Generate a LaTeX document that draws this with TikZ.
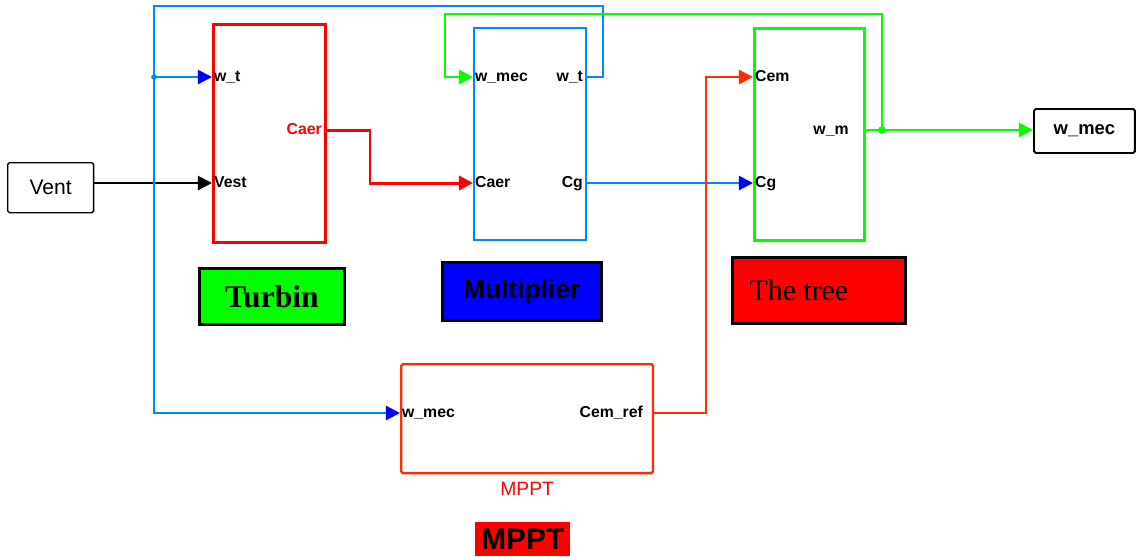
\documentclass[tikz,border=0pt]{standalone}
\usepackage{fontspec}
\setmainfont{Liberation Serif}
\setsansfont{Liberation Sans}
\usetikzlibrary{arrows.meta,positioning}
\definecolor{simblue}{RGB}{0,136,255}
\definecolor{simgreen}{RGB}{0,255,0}
\definecolor{simred}{RGB}{255,0,0}
\definecolor{simorange}{RGB}{255,45,0}
\definecolor{tipblue}{RGB}{0,0,255}

\begin{document}
\begin{tikzpicture}[x=0.02cm,y=-0.02cm,
  block/.style={draw,line width=1.6pt,inner sep=0pt,anchor=north west},
  port/.style={font=\sffamily\bfseries\fontsize{9}{10}\selectfont,inner sep=1pt,
    text height=1.6ex,text depth=0.4ex},
  legend/.style={draw=black,line width=1.6pt,inner sep=0pt,anchor=north west},
  wire/.style={line width=1.2pt},
  tip/.style={-{Triangle[length=8pt,width=8pt]}},
  bluetip/.style={-{Triangle[length=8pt,width=8pt,color=tipblue]}}]
  \useasboundingbox (0,0) rectangle (1136,556);

  % blocks
  \node (vent) [draw,line width=0.8pt,rounded corners=1pt,inner sep=0pt,anchor=north west,
    minimum width=1.72cm,minimum height=1.0cm,font=\sffamily\fontsize{12}{14}\selectfont] at (7,162) {Vent};
  \node (turb) [block,draw=simred,minimum width=2.24cm,minimum height=4.36cm] at (212,23) {};
  \node (mult) [block,draw=simblue,line width=1.2pt,minimum width=2.24cm,minimum height=4.24cm] at (473,27) {};
  \node (tree) [block,draw=simgreen,line width=1.8pt,minimum width=2.2cm,minimum height=4.24cm] at (753,27) {};
  \node (mppt) [block,draw=simorange,line width=1.3pt,rounded corners=1pt,minimum width=5.04cm,minimum height=2.18cm] at (400,363) {};
  \node (wout) [draw,line width=1.1pt,rounded corners=1pt,inner sep=0pt,anchor=north west,
    minimum width=2.02cm,minimum height=0.88cm,font=\sffamily\bfseries\fontsize{10.5}{12}\selectfont] at (1033,108) {w\_mec};
  \node [text=simred,font=\sffamily\fontsize{11}{12}\selectfont,below=1pt of mppt] {MPPT};

  % ports
  \node (twt) [port,anchor=west] at (212,77) {w\_t};
  \node (tvest) [port,anchor=west] at (212,183) {Vest};
  \node (tcaer) [port,anchor=east,text=simred] at (324,130) {Caer};
  \node (mwmec) [port,anchor=west] at (473,77) {w\_mec};
  \node (mwt) [port,anchor=east] at (585,77) {w\_t};
  \node (mcaer) [port,anchor=west] at (473,183) {Caer};
  \node (mcg) [port,anchor=east] at (585,183) {Cg};
  \node (rcem) [port,anchor=west] at (753,77) {Cem};
  \node (rcg) [port,anchor=west] at (753,183) {Cg};
  \node (rwm) [port,anchor=east,inner xsep=8pt] at (863,130) {w\_m};
  \node (pwmec) [port,anchor=west] at (400,413) {w\_mec};
  \node (pcem) [port,anchor=east,inner xsep=5pt] at (652,413) {Cem\_ref};

  % legend
  \node (lturb) [legend,fill=simgreen,minimum width=2.9cm,minimum height=1.12cm,
    font=\bfseries\fontsize{18}{20}\selectfont] at (198,267) {Turbin};
  \node (lmult) [legend,fill=tipblue,minimum width=3.18cm,minimum height=1.16cm,
    font=\sffamily\bfseries\fontsize{15}{17}\selectfont] at (441,261) {Multiplier};
  \node (ltree) [legend,fill=simred,minimum width=3.46cm,minimum height=1.32cm,
    font=\fontsize{17}{19}\selectfont] at (731,256) {\hspace*{-8mm}The tree};
  \node (lmppt) [fill=simred,inner sep=0pt,anchor=north west,minimum width=1.9cm,minimum height=0.68cm,
    font=\sffamily\bfseries\fontsize{17}{19}\selectfont] at (475,522) {MPPT};

  % connectors
  \coordinate (split) at (154,77);
  \coordinate (gsplit) at (882,130);
  \draw[wire,tip] (vent.east |- tvest.west) -- (tvest.west);
  \draw[wire,simred,line width=1.7pt,tip] (tcaer.east) -- ++(46,0) |- (mcaer.west);
  \draw[wire,simblue] (mwt.east) -| (603,6) -| (split);
  \draw[wire,simblue,bluetip] (split) -- (twt.west);
  \draw[wire,simblue,bluetip] (split) |- (pwmec.west);
  \draw[wire,simblue,bluetip] (mcg.east) -- (rcg.west);
  \draw[wire,simgreen,line width=1.5pt,tip] (rwm.east) -- (rwm.east -| wout.west);
  \draw[wire,simgreen,line width=1.5pt,tip] (gsplit) |- (445,14) |- (mwmec.west);
  \draw[wire,simorange,line width=1.4pt,tip] (pcem.east) -- ++(54,0) |- (rcem.west);
  \fill[simblue] (split) circle (1.6pt);
  \fill[simgreen] (gsplit) circle (2.2pt);
\end{tikzpicture}
\end{document}
